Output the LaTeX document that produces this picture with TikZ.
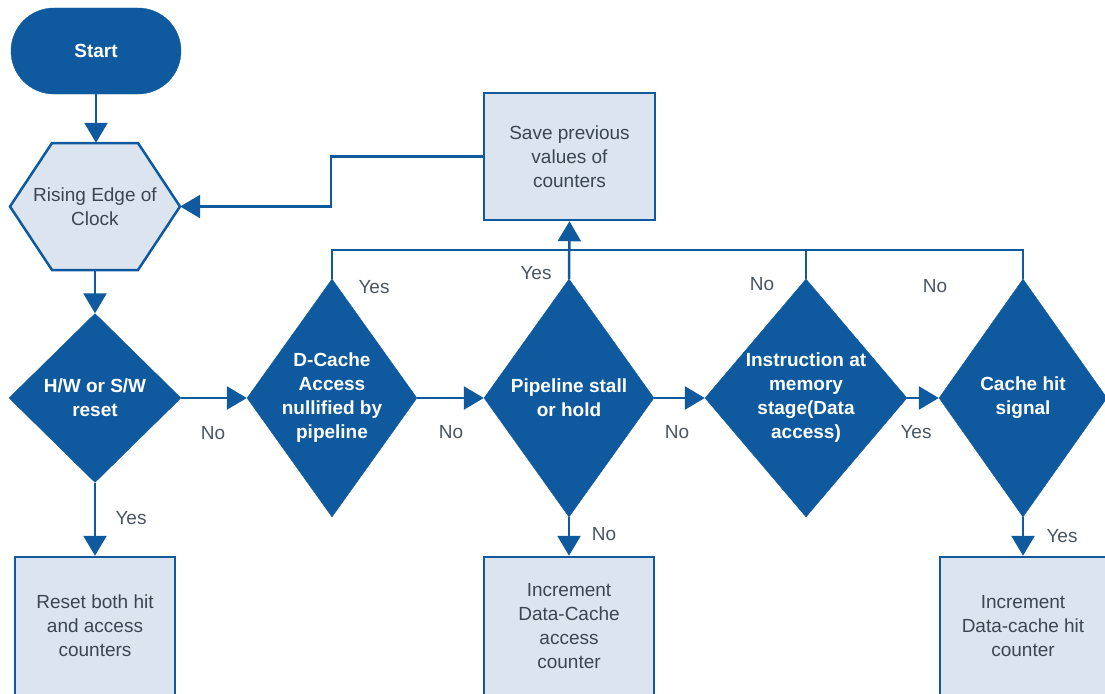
\documentclass[tikz,border=0pt]{standalone}
\usepackage{fontspec}
\setmainfont{Liberation Sans}
\usetikzlibrary{shapes.geometric,arrows.meta}
\definecolor{dblue}{HTML}{0F5A9E}
\definecolor{lfill}{HTML}{DCE4EF}
\definecolor{tgray}{HTML}{3C4652}
\definecolor{lgray}{HTML}{4A5561}
\begin{document}
\begin{tikzpicture}[x=1pt,y=-1pt,
  decision/.style={diamond, fill=dblue, draw=dblue, inner sep=0pt},
  dtext/.style={align=center, text=white, font=\bfseries\fontsize{19}{24}\selectfont},
  procbox/.style={rectangle, fill=lfill, draw=dblue, line width=2.5pt, align=center,
    text=tgray, font=\fontsize{19}{24}\selectfont},
  conn/.style={draw=dblue, line width=2.5pt},
  arr/.style={conn, -{Triangle[length=20pt,width=23pt]}},
  lbl/.style={text=lgray, font=\fontsize{19}{24}\selectfont, inner sep=0pt}]
\useasboundingbox (0,0) rectangle (1105,693);

% start
\node[rectangle, rounded corners=43pt, fill=dblue, draw=dblue, minimum width=170pt,
  minimum height=86pt, text=white, font=\bfseries\fontsize{19}{24}\selectfont] (start) at (96,51) {Start};

% clock hexagon
\filldraw[fill=lfill, draw=dblue, line width=2.5pt]
  (10,206.5) -- (52,143) -- (138,143) -- (180,206.5) -- (138,270) -- (52,270) -- cycle;
\node[rectangle, minimum width=170pt, minimum height=127pt, inner sep=0pt, align=center,
  text=tgray, font=\fontsize{19}{24}\selectfont] (clock) at (95,206.5) {Rising Edge of\\Clock};

% decisions
\node[decision, minimum width=172pt, minimum height=169pt,
  label={[dtext]center:H/W or S/W\\reset}] (d1) at (95,398) {};
\node[decision, minimum width=170pt, minimum height=238pt,
  label={[dtext]center:D-Cache\\Access\\nullified by\\pipeline}] (d2) at (332,398) {};
\node[decision, minimum width=170pt, minimum height=238pt,
  label={[dtext]center:Pipeline stall\\or hold}] (d3) at (569,398) {};
\node[decision, minimum width=202pt, minimum height=238pt,
  label={[dtext]center:Instruction at\\memory\\stage(Data\\access)}] (d4) at (806,398) {};
\node[decision, minimum width=168pt, minimum height=238pt,
  label={[dtext]center:Cache hit\\signal}] (d5) at (1023,398) {};

% boxes
\node[procbox, minimum width=171pt, minimum height=127pt] (save) at (569.5,156.5) {Save previous\\values of\\counters};
\node[procbox, minimum width=160pt, minimum height=138pt] (b1) at (95,626) {Reset both hit\\and access\\counters};
\node[procbox, minimum width=170pt, minimum height=138pt] (b2) at (569,626) {Increment\\Data-Cache\\access\\counter};
\node[procbox, minimum width=166pt, minimum height=138pt] (b3) at (1023,626) {Increment\\Data-cache hit\\counter};

% connectors
\draw[arr] (start.south) -- (start.south |- clock.north);
\draw[arr] (clock.south) -- (d1.north);
\draw[arr] (d1.south) -- (b1.north);
\draw[arr] (d1.east) -- (d2.west);
\draw[arr] (d2.east) -- (d3.west);
\draw[arr] (d3.east) -- (d4.west);
\draw[arr] (d4.east) -- (d5.west);
\draw[arr] (d3.south) -- (b2.north);
\draw[arr] (d5.south) -- (b3.north);
\draw[arr] (d3.north) -- (save.south);
\coordinate (j2) at (332,250);
\coordinate (j4) at (806,250);
\coordinate (j5) at (1023,250);
\coordinate (k1) at (331,156.5);
\draw[conn] (d2.north) -- (j2) -- (j5) -- (d5.north);
\draw[conn] (d4.north) -- (j4);
\draw[arr] (save.west) -- (k1) |- (clock.east);

% labels
\node[lbl] at (131,518) {Yes};
\node[lbl] at (213,433) {No};
\node[lbl] at (451,432) {No};
\node[lbl] at (677,432) {No};
\node[lbl] at (916,432) {Yes};
\node[lbl] at (604,534) {No};
\node[lbl] at (1062,536) {Yes};
\node[lbl] at (374,287) {Yes};
\node[lbl] at (536,273) {Yes};
\node[lbl] at (762,284) {No};
\node[lbl] at (935,286) {No};
\end{tikzpicture}
\end{document}
